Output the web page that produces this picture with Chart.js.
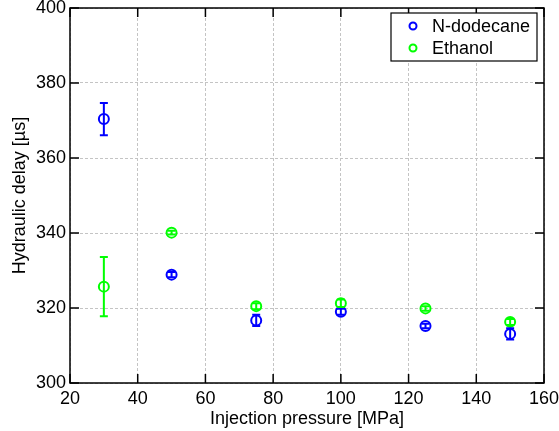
<!DOCTYPE html>
<html>
<head>
<meta charset="utf-8">
<script src="https://cdn.jsdelivr.net/npm/chart.js@4"></script>
<style>
  html, body { margin: 0; padding: 0; background: #fff; }
  #wrap { width: 559px; height: 431px; }
</style>
</head>
<body>
<div id="wrap"><canvas id="delayChart"></canvas></div>
<script>
// pressures [MPa]
var pressures = [30, 50, 75, 100, 125, 150];
// hydraulic delay [us]
var dodecane = [370.4, 328.9, 316.7, 319.0, 315.2, 313.1];
var dodecaneErr = [4.3, 0.7, 1.5, 0.8, 0.6, 1.5];
var ethanol = [325.7, 340.1, 320.5, 321.3, 319.9, 316.3];
var ethanolErr = [7.9, 0.5, 0.8, 1.0, 0.6, 0.8];
var xTicks = [20, 40, 60, 80, 100, 120, 140, 160];
var yTicks = [300, 320, 340, 360, 380, 400];

var FONT = 'Liberation Sans, Arial, Helvetica, sans-serif';

function toPoints(xs, ys) {
    return xs.map(function (x, i) { return { x: x, y: ys[i] }; });
}

// error bars drawn through the scales
var errorBars = {
    id: 'errorBars',
    afterDatasetsDraw: function (chart) {
        var ctx = chart.ctx;
        var xs = chart.scales.x, ys = chart.scales.y;
        chart.data.datasets.forEach(function (ds) {
            ctx.save();
            ctx.strokeStyle = ds.borderColor;
            ctx.lineWidth = 2;
            ds.data.forEach(function (p, i) {
                var e = ds.errors[i];
                var px = xs.getPixelForValue(p.x);
                var top = ys.getPixelForValue(p.y + e);
                var bot = ys.getPixelForValue(p.y - e);
                ctx.beginPath();
                ctx.moveTo(px, top); ctx.lineTo(px, bot);
                ctx.moveTo(px - 4, top); ctx.lineTo(px + 4, top);
                ctx.moveTo(px - 4, bot); ctx.lineTo(px + 4, bot);
                ctx.stroke();
            });
            ctx.restore();
        });
    }
};

// matlab style box, inward ticks and legend
var frame = {
    id: 'frame',
    afterDraw: function (chart) {
        var ctx = chart.ctx;
        var a = chart.chartArea;
        var xs = chart.scales.x, ys = chart.scales.y;
        ctx.save();
        ctx.strokeStyle = '#000';
        ctx.lineWidth = 1.5;
        ctx.strokeRect(a.left, a.top, a.right - a.left, a.bottom - a.top);
        ctx.beginPath();
        xTicks.forEach(function (v) {
            var px = xs.getPixelForValue(v);
            ctx.moveTo(px, a.bottom); ctx.lineTo(px, a.bottom - 9);
            ctx.moveTo(px, a.top); ctx.lineTo(px, a.top + 9);
        });
        yTicks.forEach(function (v) {
            var py = ys.getPixelForValue(v);
            ctx.moveTo(a.left, py); ctx.lineTo(a.left + 9, py);
            ctx.moveTo(a.right, py); ctx.lineTo(a.right - 9, py);
        });
        ctx.stroke();

        // legend box
        var lx = 391, ly = 13, lw = 146, lh = 48;
        ctx.fillStyle = '#fff';
        ctx.fillRect(lx, ly, lw, lh);
        ctx.lineWidth = 1.2;
        ctx.strokeRect(lx, ly, lw, lh);
        ctx.font = '18px ' + FONT;
        ctx.textBaseline = 'middle';
        chart.data.datasets.forEach(function (ds, i) {
            var cy = ly + 13 + i * 22;
            ctx.beginPath();
            ctx.strokeStyle = ds.borderColor;
            ctx.lineWidth = 2;
            ctx.arc(lx + 22, cy, 3.5, 0, Math.PI * 2);
            ctx.stroke();
            ctx.fillStyle = '#000';
            ctx.fillText(ds.label, lx + 41, cy + 1);
        });
        ctx.restore();
    }
};

var ctx = document.getElementById('delayChart').getContext('2d');
var delayChart = new Chart(ctx, {
    type: 'scatter',
    data: {
        datasets: [{
            label: 'N-dodecane',
            data: toPoints(pressures, dodecane),
            errors: dodecaneErr,
            borderColor: '#0000ff',
            backgroundColor: 'rgba(0,0,0,0)',
            pointRadius: 5,
            pointBorderWidth: 2
        }, {
            label: 'Ethanol',
            data: toPoints(pressures, ethanol),
            errors: ethanolErr,
            borderColor: '#00ff00',
            backgroundColor: 'rgba(0,0,0,0)',
            pointRadius: 5,
            pointBorderWidth: 2
        }]
    },
    options: {
        responsive: true,
        maintainAspectRatio: false,
        animation: false,
        layout: { padding: { top: 8, right: 15, left: 0, bottom: 0 } },
        scales: {
            x: {
                type: 'linear',
                min: 20, max: 160,
                afterFit: function (s) {
                    s.height = 48;
                    s.paddingLeft = 0; s.paddingRight = 0;
                },
                afterBuildTicks: function (s) { s.ticks = xTicks.map(function (v) { return { value: v }; }); },
                grid: { color: '#c4c4c4', drawTicks: false },
                border: { display: false, dash: [3, 2] },
                ticks: { color: '#000', padding: 5, font: { family: FONT, size: 18 }, maxRotation: 0 },
                title: { display: true, text: 'Injection pressure [MPa]', color: '#000', padding: { top: 0, bottom: 1 }, font: { family: FONT, size: 18 } }
            },
            y: {
                type: 'linear',
                min: 300, max: 400,
                afterFit: function (s) {
                    s.width = 70;
                    s.paddingTop = 0; s.paddingBottom = 0;
                },
                afterBuildTicks: function (s) { s.ticks = yTicks.map(function (v) { return { value: v }; }); },
                grid: { color: '#c4c4c4', drawTicks: false },
                border: { display: false, dash: [3, 2] },
                ticks: { color: '#000', padding: 4, font: { family: FONT, size: 18 } },
                title: { display: true, text: 'Hydraulic delay [µs]', color: '#000', padding: { top: 9, bottom: 0 }, font: { family: FONT, size: 18 } }
            }
        },
        plugins: {
            legend: { display: false },
            tooltip: { enabled: false }
        }
    },
    plugins: [errorBars, frame]
});
</script>
</body>
</html>
